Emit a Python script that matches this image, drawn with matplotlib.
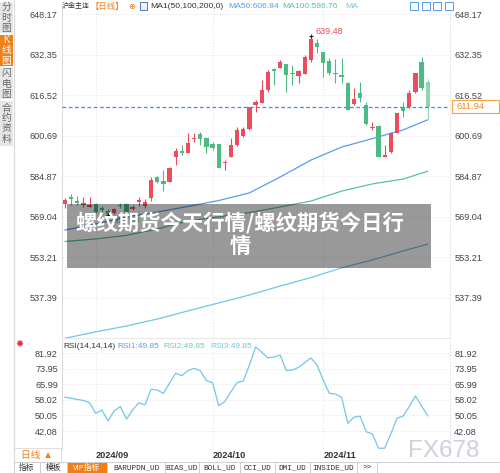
import numpy as np
import matplotlib.pyplot as plt
from matplotlib.patches import Rectangle

plt.rcParams['font.family'] = ['Liberation Sans', 'Noto Sans CJK SC', 'DejaVu Sans']

# 沪金主连 daily candles
opens = [573.8, 576.8, 575.1, 573.4, 572.9, 574.0, 572.4, 571.3, 570.6, 573.5,
         573.8, 571.9, 574.9, 573.1, 576.2, 584.4, 583.1, 582.7, 592.2, 594.7,
         593.8, 599.2, 601.3, 599.6, 597.4, 597.4, 589.9, 592.4, 597.0, 600.5,
         603.1, 612.5, 613.3, 618.5, 626.7, 627.2, 628.5, 625.2, 624.0, 624.7,
         630.2, 637.0, 633.4, 629.9, 625.2, 624.3, 621.3, 612.9, 617.2, 612.6,
         603.5, 604.4, 592.2, 594.4, 601.8, 612.0, 611.7, 617.8, 629.5, 621.5]
closes = [575.5, 575.8, 574.5, 574.5, 573.6, 570.8, 571.6, 569.9, 571.9, 573.0,
          570.9, 572.9, 575.5, 574.9, 583.3, 582.7, 581.8, 587.9, 594.7, 593.8,
          597.9, 599.9, 599.2, 596.3, 595.9, 588.1, 590.5, 597.0, 602.9, 603.1,
          611.7, 613.9, 618.5, 625.6, 626.0, 629.5, 624.3, 624.7, 625.9, 631.5,
          638.3, 635.4, 629.2, 625.0, 624.7, 623.7, 610.7, 614.9, 615.5, 605.2,
          604.2, 592.4, 593.1, 601.6, 609.6, 610.4, 617.2, 625.0, 619.2, 611.94]
highs = [576.2, 577.9, 577.2, 576.8, 576.8, 574.3, 573.2, 572.0, 572.5, 574.3,
         574.3, 573.5, 576.7, 575.9, 584.6, 584.9, 587.2, 588.5, 595.8, 597.0,
         601.6, 601.6, 602.2, 600.2, 598.3, 597.4, 591.1, 599.6, 603.9, 603.9,
         612.0, 614.6, 622.4, 626.3, 627.0, 630.2, 628.5, 628.3, 626.3, 632.2,
         639.48, 638.3, 633.4, 630.9, 630.5, 630.9, 621.7, 619.2, 621.7, 613.9,
         606.1, 604.8, 597.0, 602.2, 609.6, 613.9, 618.5, 625.2, 631.3, 622.7]
lows = [572.3, 573.6, 573.6, 572.7, 572.7, 570.4, 570.8, 569.5, 570.2, 572.3,
        570.5, 571.5, 573.2, 572.4, 575.1, 582.2, 579.2, 582.7, 589.2, 593.2,
        593.8, 598.3, 597.0, 593.8, 595.0, 587.9, 587.2, 592.4, 596.8, 600.2,
        602.9, 610.0, 613.3, 617.8, 620.4, 627.0, 617.8, 620.4, 621.1, 624.7,
        629.5, 632.8, 623.7, 624.3, 621.1, 621.1, 610.7, 612.6, 613.9, 604.8,
        602.9, 592.3, 592.12, 593.8, 601.6, 608.0, 611.3, 617.2, 618.5, 607.0]

# moving averages, read at every 5th candle
ma_idx = [0, 5, 10, 15, 20, 25, 30, 35, 40, 45, 50, 55, 59]
ma50 = [563.8, 566.1, 568.9, 570.8, 573.0, 575.3, 578.3, 584.5, 591.1, 596.2, 599.5, 602.9, 606.84]
ma100 = [559.3, 560.3, 561.7, 564.2, 567.3, 568.9, 570.6, 572.8, 575.1, 579.0, 581.8, 583.7, 586.76]
ma200 = [521.5, 524.0, 526.3, 529.0, 532.2, 535.3, 538.4, 541.9, 545.2, 549.0, 552.1, 555.6, 558.3]

rsi = [59.3, 58.8, 58.2, 57.7, 56.5, 51.1, 52.8, 47.2, 52.5, 54.5,
       48.2, 52.8, 56.5, 55.4, 63.4, 63.0, 61.3, 66.5, 71.6, 70.3,
       72.9, 74.1, 72.9, 67.8, 66.8, 55.0, 57.1, 62.2, 66.8, 67.6,
       75.8, 85.0, 82.4, 79.4, 79.9, 80.9, 72.9, 73.2, 74.6, 77.0,
       79.4, 75.8, 68.1, 61.3, 61.0, 59.3, 46.0, 49.1, 49.7, 41.7,
       40.6, 33.3, 33.3, 40.6, 48.6, 49.7, 54.5, 60.0, 54.9, 49.85]

price_ticks = [537.39, 553.21, 569.04, 584.87, 600.69, 616.52, 632.35, 648.17]
rsi_ticks = [42.08, 50.05, 58.02, 65.99, 73.95, 81.92]
month_idx = [5, 24, 42]
month_labels = ['2024/09', '2024/10', '2024/11']
side_tabs = ['分时图', 'K线图', '闪电图', '合约资料']
bottom_tabs = ['指标', '模板', 'VIP指标', 'BARUPDN_UD', 'BIAS_UD', 'BOLL_UD',
               'CCI_UD', 'DMI_UD', 'INSIDE_UD', '>>']
overlay_title = '螺纹期货今天行情/螺纹期货今日行情'

RED = '#ec4d5c'
GREEN = '#4dba84'
ORANGE = '#f07f1a'
C_MA50 = '#5b9bf0'
C_MA100 = '#5ec38f'
C_MA200 = '#72c6ea'

W, H = 500, 473
fig = plt.figure(figsize=(W / 100, H / 100), dpi=100)


def fx(x):
    return x / W


def fy(y):
    return 1 - y / H


XL = (-0.49, 62.63)

# ---- main candle panel ----
ax = fig.add_axes([fx(62), fy(338), 388 / W, 333 / H])
o = np.array(opens)
c = np.array(closes)
idx = np.arange(len(o))
cols = np.where(c >= o, RED, GREEN).astype(object)
cols[-1] = '#8fd3af'
ax.vlines(idx, lows, highs, colors=list(cols), linewidth=0.8, zorder=3)
ax.bar(idx, np.maximum(np.abs(c - o), 0.45), bottom=np.minimum(o, c), width=0.7,
       color=list(cols), linewidth=0, zorder=4)
ax.plot(ma_idx, ma50, color=C_MA50, lw=0.9, zorder=2)
ax.plot(ma_idx, ma100, color=C_MA100, lw=0.9, zorder=2)
ax.plot(ma_idx, ma200, color=C_MA200, lw=0.9, zorder=2)
ax.axhline(closes[-1], color='#3d8ee8', lw=0.9, ls=(0, (3, 2)), zorder=5)

ax.set_xlim(*XL)
ax.set_ylim(521.6, 651.7)
ax.set_yticks(price_ticks, [f'{v:.2f}' for v in price_ticks])
ax.set_xticks(month_idx, [''] * len(month_idx))
ax.tick_params(axis='y', length=0, labelleft=True, labelright=True,
               labelsize=6.6, labelcolor='#444', pad=3)
ax.tick_params(axis='x', length=0, labelbottom=False)
ax.grid(True, color='#e2e2e2', ls=(0, (1, 2)), lw=0.7)
ax.set_axisbelow(True)
ax.spines['top'].set_visible(False)
ax.spines['left'].set_color('#dcdcdc')
ax.spines['bottom'].set_color('#e8e8e8')
ax.spines['right'].set_color('#e4e4e4')
ax.spines['right'].set_linestyle((0, (1, 2)))

# high / low marks
hi = int(np.argmax(highs))
lo = int(np.argmin(lows))
ax.plot([hi, lo], [highs[hi], lows[lo]], '+', color='#222', ms=3, mew=0.8, zorder=6)
ax.annotate(f'{highs[hi]:.2f}', (hi, highs[hi]), xytext=(4.5, 5), textcoords='offset pixels',
            ha='left', va='center', fontsize=6.6, color='#f0505e', zorder=6)
ax.annotate(f'{lows[lo]:.2f}', (lo, lows[lo]), xytext=(3.5, -5), textcoords='offset pixels',
            ha='left', va='center', fontsize=6.6, color='#55be8a', zorder=6)

# last price tag on the right axis
tr = ax.get_yaxis_transform()
ax.add_patch(Rectangle((1.0064, closes[-1] - 2.6), 0.1198, 5.2, transform=tr,
                       fc='white', ec='#f4a340', lw=0.8, clip_on=False, zorder=7))
ax.text(1.016, closes[-1], f'{closes[-1]:.2f}', transform=tr, ha='left', va='center',
        fontsize=6.8, color='#f08a24', clip_on=False, zorder=8)

# grey title overlay
ax.add_patch(Rectangle((0.0129, 0.2102), 0.938, 0.1922, transform=ax.transAxes,
                       fc='black', alpha=0.4, lw=0, zorder=10))
ax.text(0.459, 0.311, overlay_title[:16] + '\n' + overlay_title[16:], transform=ax.transAxes,
        ha='center', va='center', fontsize=15.4, fontweight='bold', color='white',
        family=['Noto Sans CJK SC', 'DejaVu Sans'], linespacing=1.15, zorder=11)

# ---- RSI panel ----
ar = fig.add_axes([fx(62), fy(449), 388 / W, 109 / H])
ar.plot(idx, rsi, color=C_MA200, lw=0.9)
ar.set_xlim(*XL)
ar.set_ylim(32.89, 88.56)
ar.set_yticks(rsi_ticks, [f'{v:.2f}' for v in rsi_ticks])
ar.set_xticks(month_idx, month_labels)
for lab in ar.get_xticklabels():
    lab.set_horizontalalignment('left')
    lab.set_fontweight('bold')
ar.tick_params(axis='y', length=0, labelleft=True, labelright=True,
               labelsize=6.6, labelcolor='#444', pad=3)
ar.tick_params(axis='x', length=0, labelsize=6.6, labelcolor='#333', pad=1.5)
ar.grid(True, color='#e2e2e2', ls=(0, (1, 2)), lw=0.7)
ar.set_axisbelow(True)
ar.spines['top'].set_visible(False)
ar.spines['bottom'].set_visible(False)
ar.spines['left'].set_color('#dcdcdc')
ar.spines['right'].set_color('#e4e4e4')
ar.spines['right'].set_linestyle((0, (1, 2)))

# ---- header texts ----
hy = fy(6.5)
fig.text(fx(62), hy, '沪金主连', fontsize=5.0, color='#333', va='center')
fig.text(fx(90), hy, '【日线】', fontsize=6.0, color=ORANGE, va='center')
fig.text(fx(128), hy, '⊕', fontsize=6.0, color=ORANGE, va='center', family='DejaVu Sans')
fig.patches.append(Rectangle((fx(140), fy(10)), 7 / W, 8 / H, transform=fig.transFigure,
                             fc='#eef2fb', ec='#3f5ea8', lw=0.6))
fig.text(fx(150), hy, 'MA1(50,100,200,0)', fontsize=6.1, color='#333', va='center')
fig.text(fx(228), hy, 'MA50:606.84', fontsize=6.1, color=C_MA50, va='center')
fig.text(fx(282), hy, 'MA100:586.76', fontsize=6.1, color=C_MA100, va='center')
fig.text(fx(345), hy, 'MA', fontsize=6.1, color=C_MA200, va='center')
for x0 in [410, 422, 433, 445]:
    fig.patches.append(Rectangle((fx(x0), fy(10)), 8 / W, 8 / H, transform=fig.transFigure,
                                 fc='white', ec='#3d8ee8', lw=0.6))

ry = fy(346.5)
fig.text(fx(63), ry, 'RSI(14,14,14)', fontsize=6.0, color='#333', va='center')
fig.text(fx(117), ry, 'RSI1:49.85', fontsize=6.0, color=C_MA50, va='center')
fig.text(fx(163), ry, 'RSI2:49.85', fontsize=6.0, color='#6fd19b', va='center')
fig.text(fx(210), ry, 'RSI3:49.85', fontsize=6.0, color=C_MA200, va='center')
fig.text(fx(20), fy(344), '✹', fontsize=7, color='#e8303a', ha='center', va='center',
         family='DejaVu Sans')

# ---- left side tabs ----
fig.add_artist(plt.Line2D([fx(13.5)] * 2, [0, 1], color='#d8d8d8', lw=0.8))
tab_spans = [(2, 33), (35, 66), (68, 99), (101, 146)]
for name, (y0, y1) in zip(side_tabs, tab_spans):
    on = name.startswith('K')
    fig.patches.append(Rectangle((0, fy(y1)), 13 / W, (y1 - y0) / H, transform=fig.transFigure,
                                 fc=ORANGE if on else '#e6e6e6', ec='none'))
    fig.text(fx(6.5), fy((y0 + y1) / 2), '\n'.join(name), fontsize=7,
             color='white' if on else '#666', ha='center', va='center', linespacing=1.05)

# ---- date row / bottom tab bar ----
fig.patches.append(Rectangle((fx(13.5), fy(462)), 47.5 / W, 14 / H, transform=fig.transFigure,
                             fc='white', ec='#d8d8d8', lw=0.6))
fig.text(fx(37), fy(455), '日线 ▲', fontsize=7, color=ORANGE, ha='center', va='center')

fig.add_artist(plt.Line2D([fx(13.5), 1], [fy(462)] * 2, color='#cfcfcf', lw=0.7))
edges = [13.5, 40, 67, 107, 165, 199, 240, 275, 310, 357, 377]
for i, name in enumerate(bottom_tabs):
    x0, x1 = edges[i], edges[i + 1]
    vip = name.startswith('VIP')
    if vip:
        fig.patches.append(Rectangle((fx(x0), 0), (x1 - x0) / W, 11 / H, transform=fig.transFigure,
                                     fc=ORANGE, ec='none'))
    fam = ['Liberation Mono', 'Noto Sans CJK SC'] if name.isascii() else ['Noto Sans CJK SC']
    fig.text(fx((x0 + x1) / 2), fy(467.5), name, fontsize=5.6, family=fam,
             color='white' if vip else '#333', ha='center', va='center')
for x in edges:
    fig.add_artist(plt.Line2D([fx(x)] * 2, [0, fy(462)], color='#cfcfcf', lw=0.7))

fig.text(fx(444), fy(451), 'FX678', fontsize=17.5, color='#cbd2dc', ha='center', va='center')

fig.savefig('out.png', dpi=100)
